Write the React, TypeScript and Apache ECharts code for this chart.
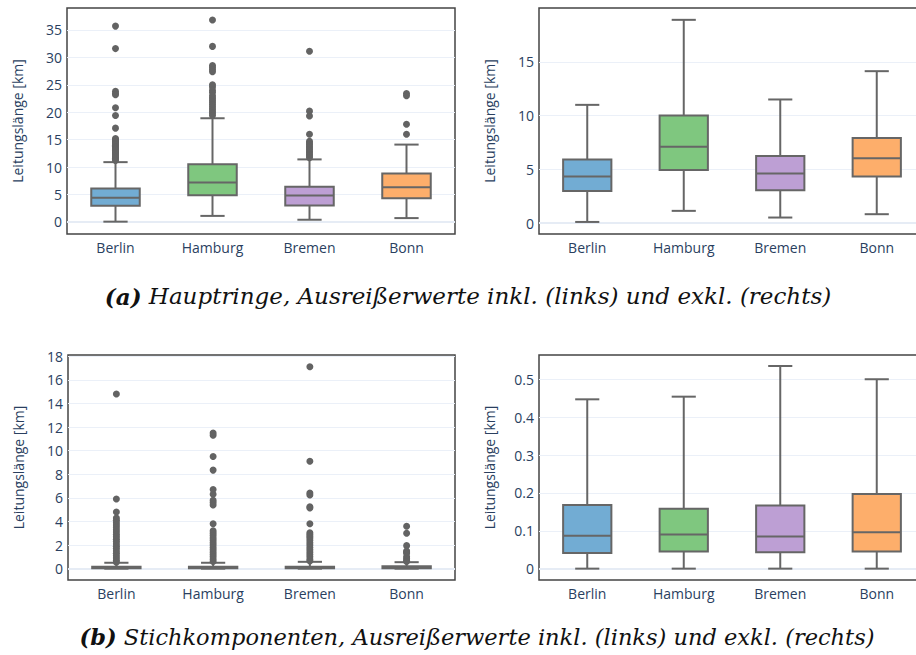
import React, { useEffect, useRef } from 'react';
import * as echarts from 'echarts';

const categories = ['Berlin', 'Hamburg', 'Bremen', 'Bonn'];
const boxColors = ['#72acd3', '#7fc77f', '#bd9fd4', '#fdae6b'];
const yName = 'Leitungslänge [km]';

// [min, Q1, median, Q3, max]
const mainInclBoxes = [
  [0.05, 2.95, 4.4, 6.1, 10.9],
  [1.1, 4.85, 7.2, 10.5, 18.9],
  [0.4, 3.0, 4.8, 6.4, 11.4],
  [0.7, 4.3, 6.3, 8.85, 14.1],
];
const mainExclBoxes = [
  [0.12, 3.0, 4.35, 5.93, 11.0],
  [1.15, 4.94, 7.1, 10.0, 18.9],
  [0.53, 3.07, 4.62, 6.24, 11.5],
  [0.84, 4.35, 6.05, 7.92, 14.13],
];
const stubInclBoxes = [
  [0, 0.041, 0.087, 0.168, 0.5],
  [0, 0.045, 0.09, 0.158, 0.5],
  [0, 0.043, 0.085, 0.167, 0.58],
  [0, 0.045, 0.096, 0.197, 0.55],
];
const stubExclBoxes = [
  [0, 0.041, 0.087, 0.168, 0.447],
  [0, 0.045, 0.09, 0.158, 0.454],
  [0, 0.043, 0.085, 0.167, 0.535],
  [0, 0.045, 0.096, 0.197, 0.5],
];

// outliers per city (with outliers shown)
const mainOutBerlin = [35.7, 31.6, 23.8, 23.4, 23.2, 20.8, 19.4, 17.1, 15.2, 15.0, 14.8, 14.6, 14.4, 14.2, 14.0, 13.8, 13.6, 13.4, 13.2, 13.0, 12.8, 12.6, 12.4, 12.2, 12.0, 11.8, 11.6, 11.4, 11.2];
const mainOutHamburg = [36.8, 32.0, 28.5, 28.2, 27.8, 27.4, 25.0, 24.6, 24.0, 23.6, 23.0, 22.6, 22.2, 21.8, 21.4, 21.0, 20.6, 20.2, 19.8, 19.4];
const mainOutBremen = [31.1, 20.2, 19.3, 16.0, 14.7, 14.4, 14.1, 13.8, 13.5, 13.2, 12.9, 12.6, 12.3, 12.0, 11.7];
const mainOutBonn = [23.4, 23.0, 17.8, 16.0];

const stubOutBerlin = [14.8, 5.9, 4.8, 4.3, 4.1, 3.9, 3.7, 3.5, 3.3, 3.1, 2.9, 2.7, 2.5, 2.3, 2.1, 1.9, 1.7, 1.5, 1.3, 1.1, 0.9, 0.7, 0.55];
const stubOutHamburg = [11.5, 11.3, 9.5, 8.35, 6.7, 6.3, 5.8, 5.6, 5.4, 3.8, 3.2, 3.0, 2.8, 2.6, 2.4, 2.2, 2.0, 1.8, 1.6, 1.4, 1.2, 1.0, 0.8, 0.6];
const stubOutBremen = [17.1, 9.1, 6.4, 6.25, 5.25, 5.15, 3.8, 3.05, 2.9, 2.75, 2.6, 2.4, 2.2, 2.0, 1.8, 1.6, 1.4, 1.2, 1.0, 0.8, 0.65];
const stubOutBonn = [3.6, 3.0, 1.95, 1.5, 1.4, 1.3, 1.0, 0.85, 0.7, 0.6];

const yRanges = [
  [-2.2, 39.0, 8],
  [-1.0, 20.0, 4],
  [-0.96, 18.1, 9],
  [-0.03, 0.564, 6],
];

const captionA = 'Hauptringe, Ausreißerwerte inkl. (links) und exkl. (rechts)';
const captionB = 'Stichkomponenten, Ausreißerwerte inkl. (links) und exkl. (rechts)';

const textColor = '#2a3f5f';
const lineGray = '#666666';
const serifFont = "'DejaVu Serif', serif";

const renderBox = (params: any, api: any) => {
  const i = api.value(0);
  const lo = api.coord([i, api.value(1)]);
  const q1 = api.coord([i, api.value(2)]);
  const md = api.coord([i, api.value(3)]);
  const q3 = api.coord([i, api.value(4)]);
  const hi = api.coord([i, api.value(5)]);
  const band = api.size([1, 0])[0];
  const hb = band * 0.25;
  const hc = band * 0.125;
  const cx = lo[0];
  const ls = { stroke: lineGray, lineWidth: 2, fill: null };
  return {
    type: 'group',
    children: [
      { type: 'line', shape: { x1: cx, y1: lo[1], x2: cx, y2: q1[1] }, style: ls },
      { type: 'line', shape: { x1: cx, y1: q3[1], x2: cx, y2: hi[1] }, style: ls },
      { type: 'line', shape: { x1: cx - hc, y1: lo[1], x2: cx + hc, y2: lo[1] }, style: ls },
      { type: 'line', shape: { x1: cx - hc, y1: hi[1], x2: cx + hc, y2: hi[1] }, style: ls },
      {
        type: 'rect',
        shape: { x: cx - hb, y: q3[1], width: 2 * hb, height: q1[1] - q3[1] },
        style: { fill: boxColors[params.dataIndex], stroke: lineGray, lineWidth: 2 },
      },
      { type: 'line', shape: { x1: cx - hb, y1: md[1], x2: cx + hb, y2: md[1] }, style: ls },
    ],
  };
};

export default function App() {
  const ref = useRef<HTMLDivElement>(null);
  useEffect(() => {
    if (!ref.current) return;
    const chart = echarts.init(ref.current, null, { renderer: 'svg' });
    const panels = [
      { boxes: mainInclBoxes, outliers: [mainOutBerlin, mainOutHamburg, mainOutBremen, mainOutBonn] },
      { boxes: mainExclBoxes, outliers: [[], [], [], []] },
      { boxes: stubInclBoxes, outliers: [stubOutBerlin, stubOutHamburg, stubOutBremen, stubOutBonn] },
      { boxes: stubExclBoxes, outliers: [[], [], [], []] },
    ];
    const grids = [
      { left: 67, top: 8, width: 388, height: 226 },
      { left: 539, top: 8, width: 386, height: 226 },
      { left: 68, top: 355, width: 387, height: 225 },
      { left: 539, top: 355, width: 386, height: 225 },
    ];
    const series: any[] = [];
    panels.forEach((p, k) => {
      series.push({
        type: 'custom',
        xAxisIndex: k,
        yAxisIndex: k,
        z: 3,
        renderItem: renderBox,
        encode: { x: 0, y: [1, 2, 3, 4, 5] },
        data: p.boxes.map((b, i) => [i, ...b]),
      });
      const pts: number[][] = [];
      p.outliers.forEach((arr, i) => arr.forEach((v) => pts.push([i, v])));
      series.push({
        type: 'scatter',
        xAxisIndex: k,
        yAxisIndex: k,
        z: 4,
        symbolSize: 7,
        itemStyle: { color: '#636363', opacity: 1 },
        data: pts,
        markLine: {
          silent: true,
          symbol: 'none',
          z: 1,
          label: { show: false },
          lineStyle: { color: '#e6ecf5', width: 2, type: 'solid' },
          data: [{ yAxis: 0 }],
        },
      });
    });
    const captionStyle = (text: string, label: string, size: number) => ({
      text: '{b|' + label + '} {i|' + text + '}',
      align: 'center',
      verticalAlign: 'middle',
      fontFamily: serifFont,
      fontStyle: 'italic',
      fontSize: size,
      rich: {
        b: { fontFamily: serifFont, fontStyle: 'italic', fontWeight: 'bold', fontSize: size, fill: '#111' },
        i: { fontFamily: serifFont, fontStyle: 'italic', fontWeight: 'normal', fontSize: size, fill: '#111' },
      },
    });
    chart.setOption({
      animation: false,
      backgroundColor: '#ffffff',
      grid: grids.map((g) => ({
        ...g,
        show: true,
        borderColor: '#444',
        borderWidth: 1.5,
        backgroundColor: 'transparent',
        containLabel: false,
        outerBoundsMode: 'none',
      })),
      xAxis: grids.map((_, k) => ({
        type: 'category',
        gridIndex: k,
        data: categories,
        boundaryGap: true,
        axisLine: { show: false },
        axisTick: { show: false },
        splitLine: { show: false },
        axisLabel: { color: textColor, fontSize: 14, fontFamily: 'Open Sans', margin: 6 },
      })),
      yAxis: grids.map((_, k) => ({
        type: 'value',
        gridIndex: k,
        min: yRanges[k][0],
        max: yRanges[k][1],
        splitNumber: yRanges[k][2],
        name: yName,
        nameLocation: 'middle',
        nameGap: 43,
        nameTextStyle: { color: textColor, fontSize: 14, fontFamily: 'Open Sans' },
        axisLine: { show: false },
        axisTick: { show: false },
        splitLine: { show: true, showMinLine: false, showMaxLine: false, lineStyle: { color: '#ebf0f8', width: 1 } },
        axisLabel: { color: textColor, fontSize: 14, fontFamily: 'Open Sans', margin: 5, showMinLabel: false, showMaxLabel: false },
      })),
      graphic: [
        { type: 'text', x: 468, y: 296, style: captionStyle(captionA, '(a)', 23) },
        { type: 'text', x: 477, y: 637, style: captionStyle(captionB, '(b)', 22.5) },
      ],
      series,
    });
    return () => chart.dispose();
  }, []);
  return <div ref={ref} style={{ position: 'fixed', left: 0, top: 0, width: 916, height: 655 }} />;
}
